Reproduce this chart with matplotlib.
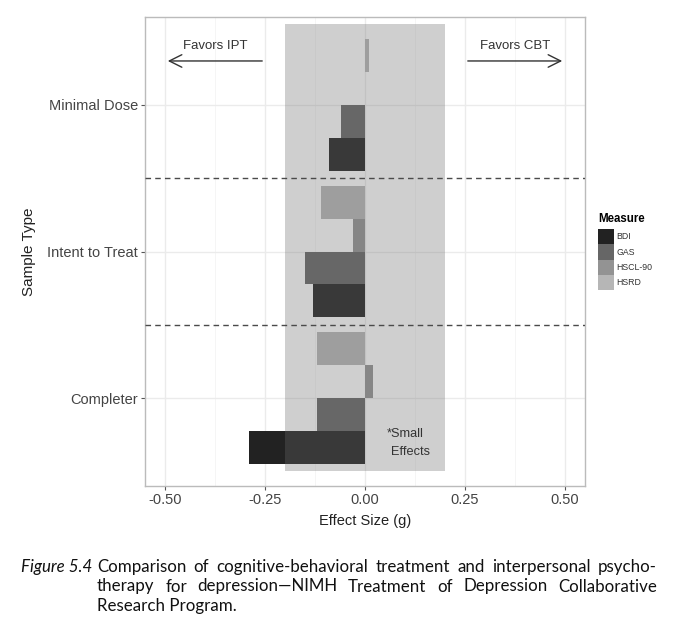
import matplotlib
matplotlib.use("Agg")
import matplotlib.pyplot as plt
from matplotlib.patches import Patch

# data (effect size g, negative favours IPT)
categories = ["Completer", "Intent to Treat", "Minimal Dose"]
measures = ["BDI", "GAS", "HSCL-90", "HSRD"]
bdi = [-0.29, -0.13, -0.09]
gas = [-0.12, -0.15, -0.06]
hscl90 = [0.02, -0.03, 0.0]
hsrd = [-0.12, -0.11, 0.01]
series = [bdi, gas, hscl90, hsrd]
colors = ["#222222", "#666666", "#939393", "#b6b6b6"]
xticks = [-0.50, -0.25, 0.00, 0.25, 0.50]

caption_lines = [
    "Comparison of cognitive-behavioral treatment and interpersonal psycho-",
    "therapy for depression\u2014NIMH Treatment of Depression Collaborative",
    "Research Program.",
]

W, H = 680, 628
fig = plt.figure(figsize=(W / 100, H / 100), dpi=100)
plt.rcParams["font.family"] = ["Liberation Sans", "DejaVu Sans"]

ax = fig.add_axes([145 / W, 1 - 486 / H, 440 / W, 469 / H])
ax.set_xlim(-0.55, 0.55)
ax.set_ylim(0.4, 3.6)

# grid like theme_bw
for v in xticks:
    ax.axvline(v, color="#ebebeb", lw=1.0, zorder=0)
for v in [-0.375, -0.125, 0.125, 0.375]:
    ax.axvline(v, color="#f4f4f4", lw=0.6, zorder=0)
for y in range(1, len(categories) + 1):
    ax.axhline(y, color="#ebebeb", lw=1.0, zorder=0)

ypos = list(range(1, len(categories) + 1))
width = 0.9 / len(measures)
for i, (vals, col) in enumerate(zip(series, colors)):
    off = -0.45 + width * (i + 0.5)
    ax.barh([y + off for y in ypos], vals, height=width, color=col,
            edgecolor="none", zorder=2)

# small effects band
ax.axvspan(-0.2, 0.2, ymin=(0.5 - 0.4) / 3.2, ymax=(3.55 - 0.4) / 3.2,
           color="#6c6c6c", alpha=0.32, lw=0, zorder=3)

for y in [1.5, 2.5]:
    ax.axhline(y, color="#4a4a4a", lw=1.0, ls=(0, (4, 3)), zorder=4)

arrow = dict(arrowstyle="->,head_length=0.9,head_width=0.45", color="#333333", lw=1.0)
ax.annotate("", xy=(-0.5, 3.3), xytext=(-0.25, 3.3), arrowprops=arrow, zorder=5)
ax.annotate("", xy=(0.5, 3.3), xytext=(0.25, 3.3), arrowprops=arrow, zorder=5)
ax.text(-0.375, 3.4, "Favors IPT", ha="center", va="center", fontsize=9.5, color="#333333")
ax.text(0.375, 3.4, "Favors CBT", ha="center", va="center", fontsize=9.5, color="#333333")
ax.text(0.101, 0.755, "*Small", ha="center", va="center", fontsize=9.2,
        color="#333333", zorder=6)
ax.text(0.115, 0.632, "Effects", ha="center", va="center", fontsize=9.2,
        color="#333333", zorder=6)

ax.set_xticks(xticks)
ax.set_xticklabels([f"{v:.2f}" for v in xticks])
ax.set_yticks(ypos)
ax.set_yticklabels(categories)
ax.tick_params(length=3, width=0.8, color="#555555", labelcolor="#444444",
               labelsize=10.5, pad=2)
for s in ax.spines.values():
    s.set_color("#bbbbbb")
    s.set_linewidth(1.0)
ax.set_xlabel("Effect Size (g)", fontsize=10.5, color="#222222", labelpad=5)
ax.set_ylabel("Sample Type", fontsize=11, color="#222222", labelpad=8)

handles = [Patch(facecolor=c, edgecolor="none", label=m) for m, c in zip(measures, colors)]
leg = fig.legend(handles=handles, loc="upper left", bbox_to_anchor=(598 / W, 1 - 213 / H),
                 frameon=False, fontsize=6.3, title="Measure", handlelength=1.8,
                 handleheight=2.3, labelspacing=0, handletextpad=0.3,
                 borderpad=0, borderaxespad=0)
leg.get_title().set_fontweight("bold")
leg.get_title().set_fontsize(8.3)
leg._legend_box.align = "left"
leg._legend_box.sep = 3
for t in leg.get_texts():
    t.set_color("#333333")

# caption, justified like the book layout
cap_font = dict(family=["Lato", "DejaVu Sans"], fontsize=12.2, color="#111111")
fig.text(21 / W, 1 - 567 / H, "Figure 5.4", style="italic", va="center", **cap_font)
renderer = fig.canvas.get_renderer()
x_left, x_right = 97, 657
for k, line in enumerate(caption_lines):
    yy = 1 - (567 + 19.5 * k) / H
    words = line.split(" ")
    if k == len(caption_lines) - 1:
        fig.text(x_left / W, yy, line, va="center", **cap_font)
        continue
    objs = [fig.text(0, yy, w, va="center", **cap_font) for w in words]
    widths = [o.get_window_extent(renderer).width for o in objs]
    gap = (x_right - x_left - sum(widths)) / (len(words) - 1)
    x = x_left
    for o, w in zip(objs, widths):
        o.set_x(x / W)
        x += w + gap

fig.savefig("out.png", dpi=100)
